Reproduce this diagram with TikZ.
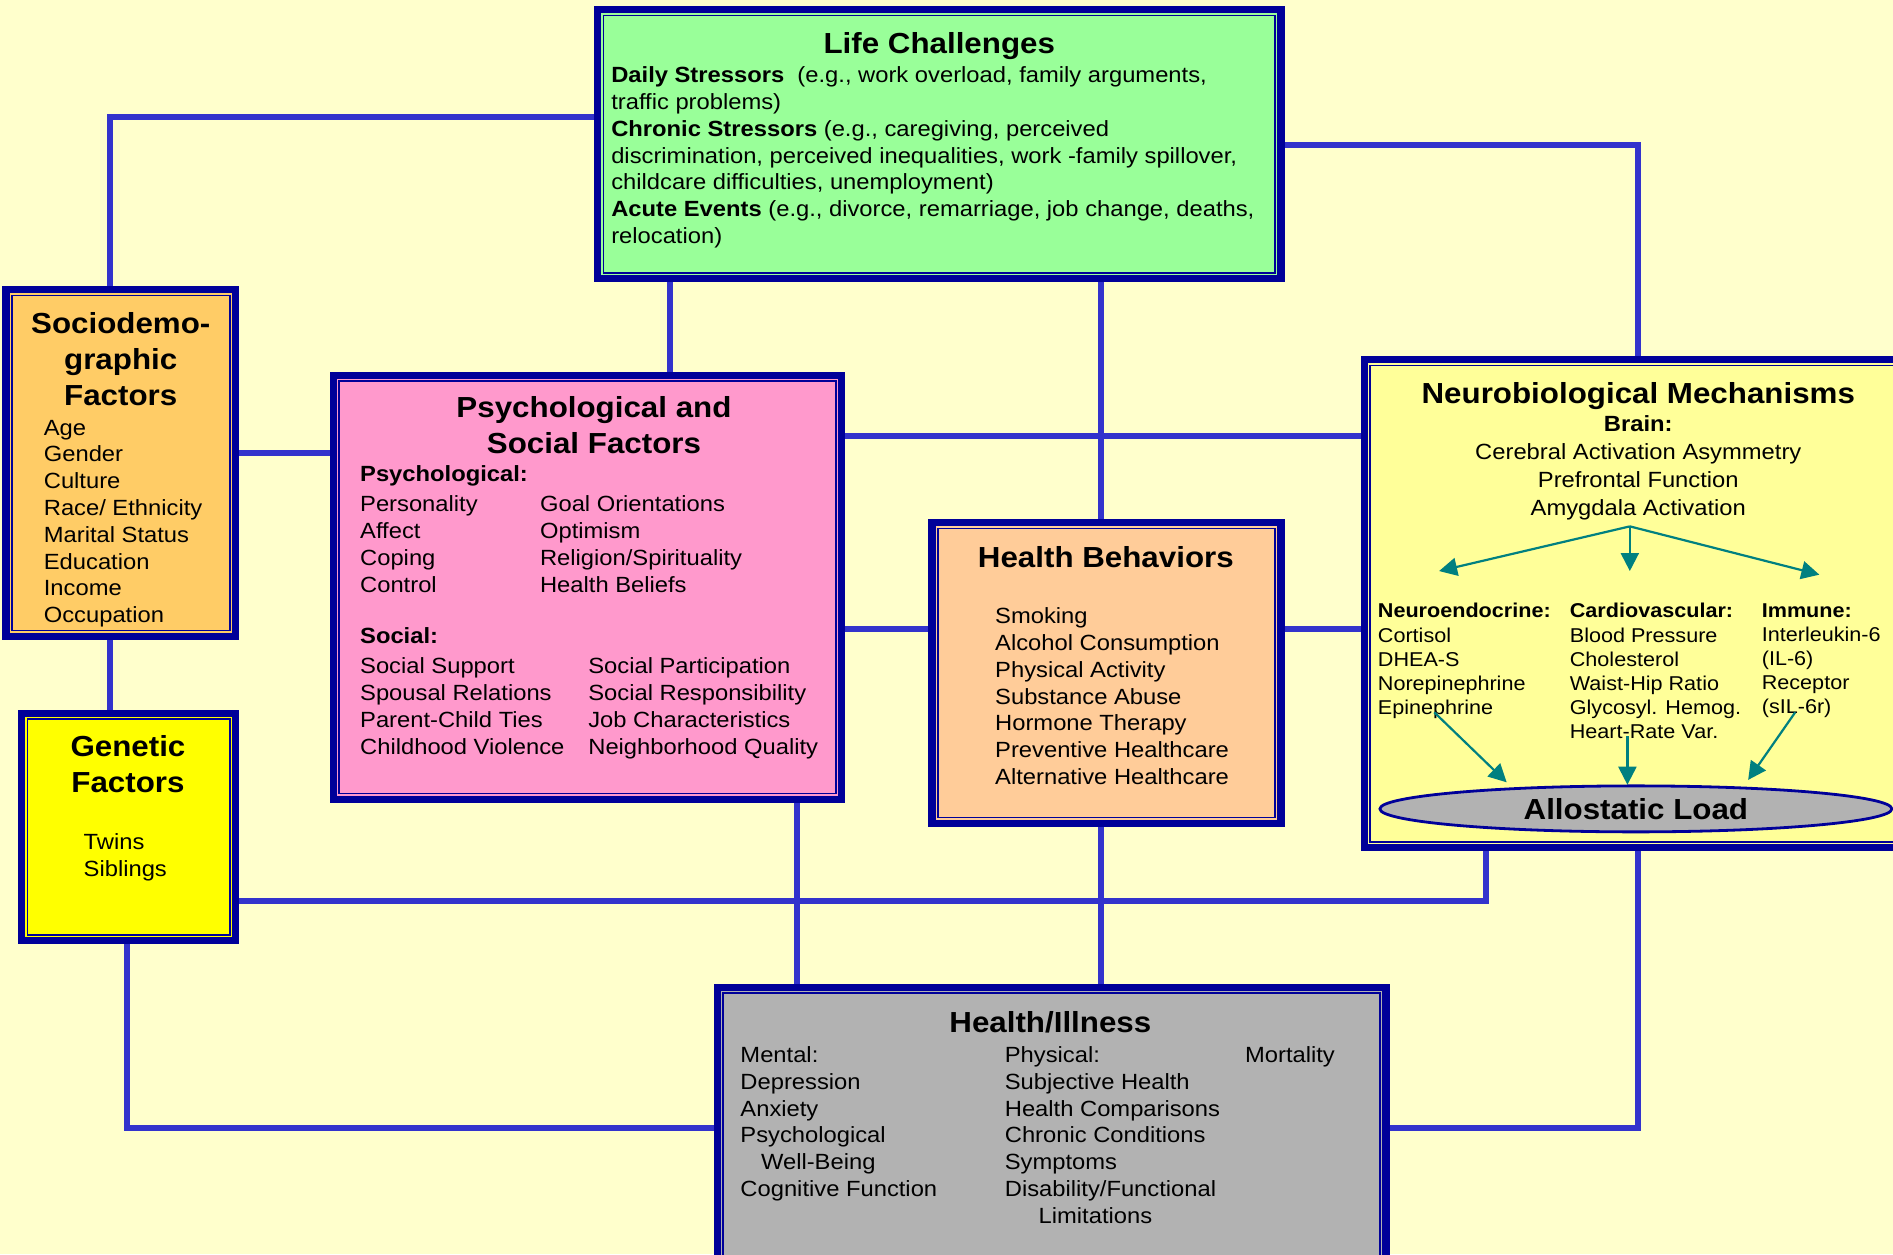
\documentclass[tikz,border=0pt]{standalone}
\usepackage{fontspec}
\setmainfont[FakeStretch=1.08]{Liberation Sans}
\usetikzlibrary{arrows.meta,fit,shapes.geometric}
\pgfdeclarelayer{background}
\pgfsetlayers{background,main}

\definecolor{bgcream}{HTML}{FFFFCC}
\definecolor{framenavy}{HTML}{000099}
\definecolor{linkblue}{HTML}{3333CC}
\definecolor{lifegreen}{HTML}{99FF99}
\definecolor{socioorange}{HTML}{FFCC66}
\definecolor{geneyellow}{HTML}{FFFF00}
\definecolor{psypink}{HTML}{FF99CC}
\definecolor{behavpeach}{HTML}{FFCC99}
\definecolor{neuroyellow}{HTML}{FFFF99}
\definecolor{illgray}{HTML}{B2B2B2}
\definecolor{arrowteal}{HTML}{008080}

\begin{document}
\begin{tikzpicture}[
    x=0.6037pt, y=-0.6037pt,
    box/.style={draw=framenavy, line width=3.6pt, inner sep=0pt,
        path picture={\draw[framenavy, line width=0.9pt]
            ([shift={(2.9pt,-2.9pt)}]path picture bounding box.north west) rectangle
            ([shift={(-2.9pt,2.9pt)}]path picture bounding box.south east);}},
    link/.style={draw=linkblue, line width=3pt},
    headtext/.style={inner sep=0pt, align=center, anchor=north, font=\bfseries\fontsize{14.5}{17.9}\selectfont},
    bodytext/.style={inner sep=0pt, align=left, anchor=north west, font=\fontsize{11}{13.4}\selectfont},
    smalltext/.style={bodytext, font=\fontsize{10}{12.1}\selectfont},
    tealarrow/.style={draw=arrowteal, line width=1.1pt, -{Triangle[length=9pt,width=9pt]}}
]
\useasboundingbox (0,0) rectangle (1568,1039);
\clip (0,0) rectangle (1568,1039);

% boxes
\node[box, fill=lifegreen, fit={(495,8) (1061,231)}] (life) {};
\node[box, fill=socioorange, fit={(5,240) (195,527)}] (socio) {};
\node[box, fill=geneyellow, fit={(18,591) (195,779)}] (gene) {};
\node[box, fill=psypink, fit={(276,311) (697,662)}] (psych) {};
\node[box, fill=behavpeach, fit={(772,433) (1061,682)}] (behav) {};
\node[box, fill=neuroyellow, fit={(1130,298) (1590,702)}] (neuro) {};
\node[box, fill=illgray, fit={(594,818) (1148,1070)}] (ill) {};

% life challenges
\node[headtext] (lifetitle) at (778,26.4) {Life Challenges};
\node[bodytext] (lifetext) at (506,55) {\textbf{Daily Stressors}\ \ (e.g., work overload, family arguments,\\traffic problems)\\\textbf{Chronic Stressors} (e.g., caregiving, perceived\\discrimination, perceived inequalities, work -family spillover,\\childcare difficulties, unemployment)\\\textbf{Acute Events} (e.g., divorce, remarriage, job change, deaths,\\relocation)};

% sociodemographic
\node[headtext] (sociotitle) at (100,258.5) {Sociodemo-\\graphic\\Factors};
\node[bodytext] (sociotext) at (36,347.5) {Age\\Gender\\Culture\\Race/ Ethnicity\\Marital Status\\Education\\Income\\Occupation};

% genetic
\node[headtext] (genetitle) at (106,609) {Genetic\\Factors};
\node[bodytext] (genetext) at (69,690.5) {Twins\\Siblings};

% psychological and social
\node[headtext] (psychtitle) at (492,328) {Psychological and\\Social Factors};
\node[bodytext] (psychhead) at (298,385.5) {\textbf{Psychological:}};
\node[bodytext] (psychleft) at (298,410.5) {Personality\\Affect\\Coping\\Control};
\node[bodytext] (psychright) at (447,410.5) {Goal Orientations\\Optimism\\Religion/Spirituality\\Health Beliefs};
\node[bodytext] (socialhead) at (298,519.5) {\textbf{Social:}};
\node[bodytext] (socialleft) at (298,544.5) {Social Support\\Spousal Relations\\Parent-Child Ties\\Childhood Violence};
\node[bodytext] (socialright) at (487,544.5) {Social Participation\\Social Responsibility\\Job Characteristics\\Neighborhood Quality};

% health behaviors
\node[headtext] (behavtitle) at (916,452) {Health Behaviors};
\node[bodytext] (behavtext) at (824,503) {Smoking\\Alcohol Consumption\\Physical Activity\\Substance Abuse\\Hormone Therapy\\Preventive Healthcare\\Alternative Healthcare};

% neurobiological mechanisms
\node[headtext] (neurotitle) at (1357,316.4) {Neurobiological Mechanisms};
\node[bodytext, anchor=north, align=center, font=\fontsize{11}{14}\selectfont] (brain) at (1357,344) {\textbf{Brain:}\\Cerebral Activation Asymmetry\\Prefrontal Function\\Amygdala Activation};
\node[smalltext] (endo) at (1141,499.4) {\textbf{Neuroendocrine:}\\Cortisol\\DHEA-S\\Norepinephrine\\Epinephrine};
\node[smalltext] (cardio) at (1300,499.4) {\textbf{Cardiovascular:}\\Blood Pressure\\Cholesterol\\Waist-Hip Ratio\\Glycosyl. Hemog.\\Heart-Rate Var.};
\node[smalltext] (immune) at (1459,499.4) {\textbf{Immune:}\\Interleukin-6\\(IL-6)\\Receptor\\(sIL-6r)};
\node[ellipse, draw=framenavy, line width=1.4pt, fill=illgray, minimum width=256pt, minimum height=23pt, inner sep=0pt, font=\bfseries\fontsize{14.5}{17}\selectfont] (allo) at (1355,670) {Allostatic Load};

\coordinate (fork) at (1350,436);
\coordinate (endotip) at (1192,473);
\coordinate (cardiotip) at (1350,473);
\coordinate (immunetip) at (1507,476);
\coordinate (endotail) at (1188,590);
\coordinate (endohead) at (1248,648);
\coordinate (cardiotail) at (1348,610);
\coordinate (cardiohead) at (1348,650);
\coordinate (immunetail) at (1487,590);
\coordinate (immunehead) at (1448,646);
\draw[tealarrow] (fork) -- (endotip);
\draw[tealarrow] (fork) -- (cardiotip);
\draw[tealarrow] (fork) -- (immunetip);
\draw[tealarrow] (endotail) -- (endohead);
\draw[tealarrow] (cardiotail) -- (cardiohead);
\draw[tealarrow] (immunetail) -- (immunehead);

% health / illness
\node[headtext] (illtitle) at (870,837.4) {Health/Illness};
\node[bodytext] (mental) at (613,866.5) {Mental:\\Depression\\Anxiety\\Psychological\\\hspace*{10.3pt}Well-Being\\Cognitive Function};
\node[bodytext] (physical) at (832,866.5) {Physical:\\Subjective Health\\Health Comparisons\\Chronic Conditions\\Symptoms\\Disability/Functional\\\hspace*{16.9pt}Limitations};
\node[bodytext] (mortality) at (1031,866.5) {Mortality};

% connectors
\begin{pgfonlayer}{background}
\fill[bgcream] (0,0) rectangle (1568,1039);
\draw[link] (life.west |- 0,97) -| (91,0 |- socio.north);
\draw[link] (life.east |- 0,120) -| (1357,0 |- neuro.north);
\draw[link] (555,0 |- life.south) -- (555,0 |- psych.north);
\draw[link] (912,0 |- life.south) -- (912,0 |- behav.north);
\draw[link] (psych.east |- 0,361) -- (neuro.west |- 0,361);
\draw[link] (socio.east |- 0,375) -- (psych.west |- 0,375);
\draw[link] (91,0 |- socio.south) -- (91,0 |- gene.north);
\draw[link] (psych.east |- 0,521) -- (behav.west |- 0,521);
\draw[link] (behav.east |- 0,521) -- (neuro.west |- 0,521);
\draw[link] (gene.east |- 0,746) -| (1231,0 |- neuro.south);
\draw[link] (660,0 |- psych.south) -- (660,0 |- ill.north);
\draw[link] (912,0 |- behav.south) -- (912,0 |- ill.north);
\draw[link] (105,0 |- gene.south) |- (ill.west |- 0,934);
\draw[link] (1357,0 |- neuro.south) |- (ill.east |- 0,934);
\end{pgfonlayer}
\end{tikzpicture}
\end{document}
